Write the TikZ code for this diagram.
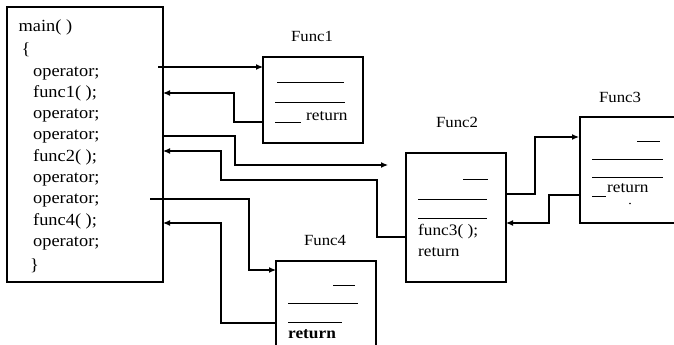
\documentclass[tikz,border=0pt]{standalone}
\usepackage{fontspec}
\setmainfont{Liberation Serif}[FakeStretch=1.08]
\usetikzlibrary{arrows.meta}
\tikzset{
  fbox/.style={draw, line width=1.3pt, inner sep=0pt, outer sep=0pt},
  conn/.style={line width=1.2pt, -{Latex[length=7pt,width=6pt]}},
  plain/.style={line width=1.2pt},
  rule/.style={line width=0.8pt},
  maintext/.style={anchor=base west, inner sep=0pt, font=\fontsize{17}{20}\selectfont},
  boxtext/.style={anchor=base west, inner sep=0pt, font=\fontsize{16}{19}\selectfont},
  titletext/.style={inner sep=0pt, font=\fontsize{15.5}{18}\selectfont},
}
\begin{document}
\begin{tikzpicture}[x=1pt,y=-1pt]
\useasboundingbox (0,0) rectangle (674,345);
\clip (0,0) rectangle (674,345);

% boxes
\node[fbox, minimum width=156pt, minimum height=275pt] (main) at (85,144.5) {};
\node[fbox, minimum width=100pt, minimum height=86pt] (f1) at (313,100) {};
\node[fbox, minimum width=100pt, minimum height=129pt] (f2) at (456,217.5) {};
\node[fbox, minimum width=100pt, minimum height=106pt] (f3) at (630,170) {};
\node[fbox, minimum width=100pt, minimum height=100pt] (f4) at (326,311) {};

% titles
\node[titletext] (t1) at (312,36.5) {Func1};
\node[titletext] (t2) at (457,122.5) {Func2};
\node[titletext] (t3) at (620,97) {Func3};
\node[titletext] (t4) at (325,240.5) {Func4};

% main text
\node[maintext] (m1) at (18.5,31.7) {main( )};
\node[maintext] (m2) at (21.5,54.5) {\{};
\node[maintext] (m3) at (33,76.7) {operator;};
\node[maintext] (m4) at (33,97) {func1( );};
\node[maintext] (m5) at (33,118) {operator;};
\node[maintext] (m6) at (33,139) {operator;};
\node[maintext] (m7) at (33,161.5) {func2( );};
\node[maintext] (m8) at (33,182.7) {operator;};
\node[maintext] (m9) at (33,203) {operator;};
\node[maintext] (m10) at (33,225) {func4( );};
\node[maintext] (m11) at (33,246.7) {operator;};
\node[maintext] (m12) at (30,270) {\}};

% Func1 contents
\draw[rule] (277,82) -- (344,82);
\draw[rule] (275,102) -- (345,102);
\draw[rule] (275,122) -- (301,122);
\node[boxtext] (r1) at (306,120) {return};

% Func2 contents
\draw[rule] (463,179) -- (488,179);
\draw[rule] (418,199) -- (487,199);
\draw[rule] (418,218) -- (487,218);
\node[boxtext] (c3) at (418,235.5) {func3( );};
\node[boxtext] (r2) at (418,256) {return};

% Func3 contents
\draw[rule] (637,141) -- (660,141);
\draw[rule] (592,159) -- (663,159);
\draw[rule] (592,177) -- (663,177);
\draw[rule] (592,196) -- (606,196);
\node[boxtext] (r3) at (607,192.5) {return};
\fill (630,203.5) circle (0.8pt);

% Func4 contents
\draw[rule] (333,285) -- (355,285);
\draw[rule] (288,303) -- (358,303);
\draw[rule] (288,322) -- (342,322);
\node[boxtext, font=\fontsize{16}{19}\selectfont\bfseries] (r4) at (288,338) {return};

% connector coordinates
\coordinate (s1) at (158,67);
\coordinate (y122) at (0,122);
\coordinate (j1) at (234,93);
\coordinate (y136) at (0,136);
\coordinate (j2) at (235,165);
\coordinate (tip2) at (388,165);
\coordinate (y237) at (0,237);
\coordinate (j3) at (377,180);
\coordinate (j4) at (221,151);
\coordinate (s4) at (150,199);
\coordinate (j5) at (249,270);
\coordinate (y323) at (0,323);
\coordinate (j6) at (221,223);
\coordinate (y194) at (0,194);
\coordinate (j7) at (535,137);
\coordinate (tip3) at (579,137);
\coordinate (y195) at (0,195);
\coordinate (j8) at (549,223);

% connectors
\draw[conn] (s1) -- (s1 -| f1.west);
\draw[conn] (f1.west |- y122) -| (j1) -- (main.east |- j1);
\draw[conn] (main.east |- y136) -| (j2) -- (tip2);
\draw[conn] (f2.west |- y237) -| (j3) -| (j4) -- (main.east |- j4);
\draw[conn] (s4) -| (j5) -- (f4.west |- j5);
\draw[conn] (f4.west |- y323) -| (j6) -- (main.east |- j6);
\draw[conn] (f2.east |- y194) -| (j7) -- (tip3);
\draw[conn] (f3.west |- y195) -| (j8) -- (f2.east |- j8);
\end{tikzpicture}
\end{document}
